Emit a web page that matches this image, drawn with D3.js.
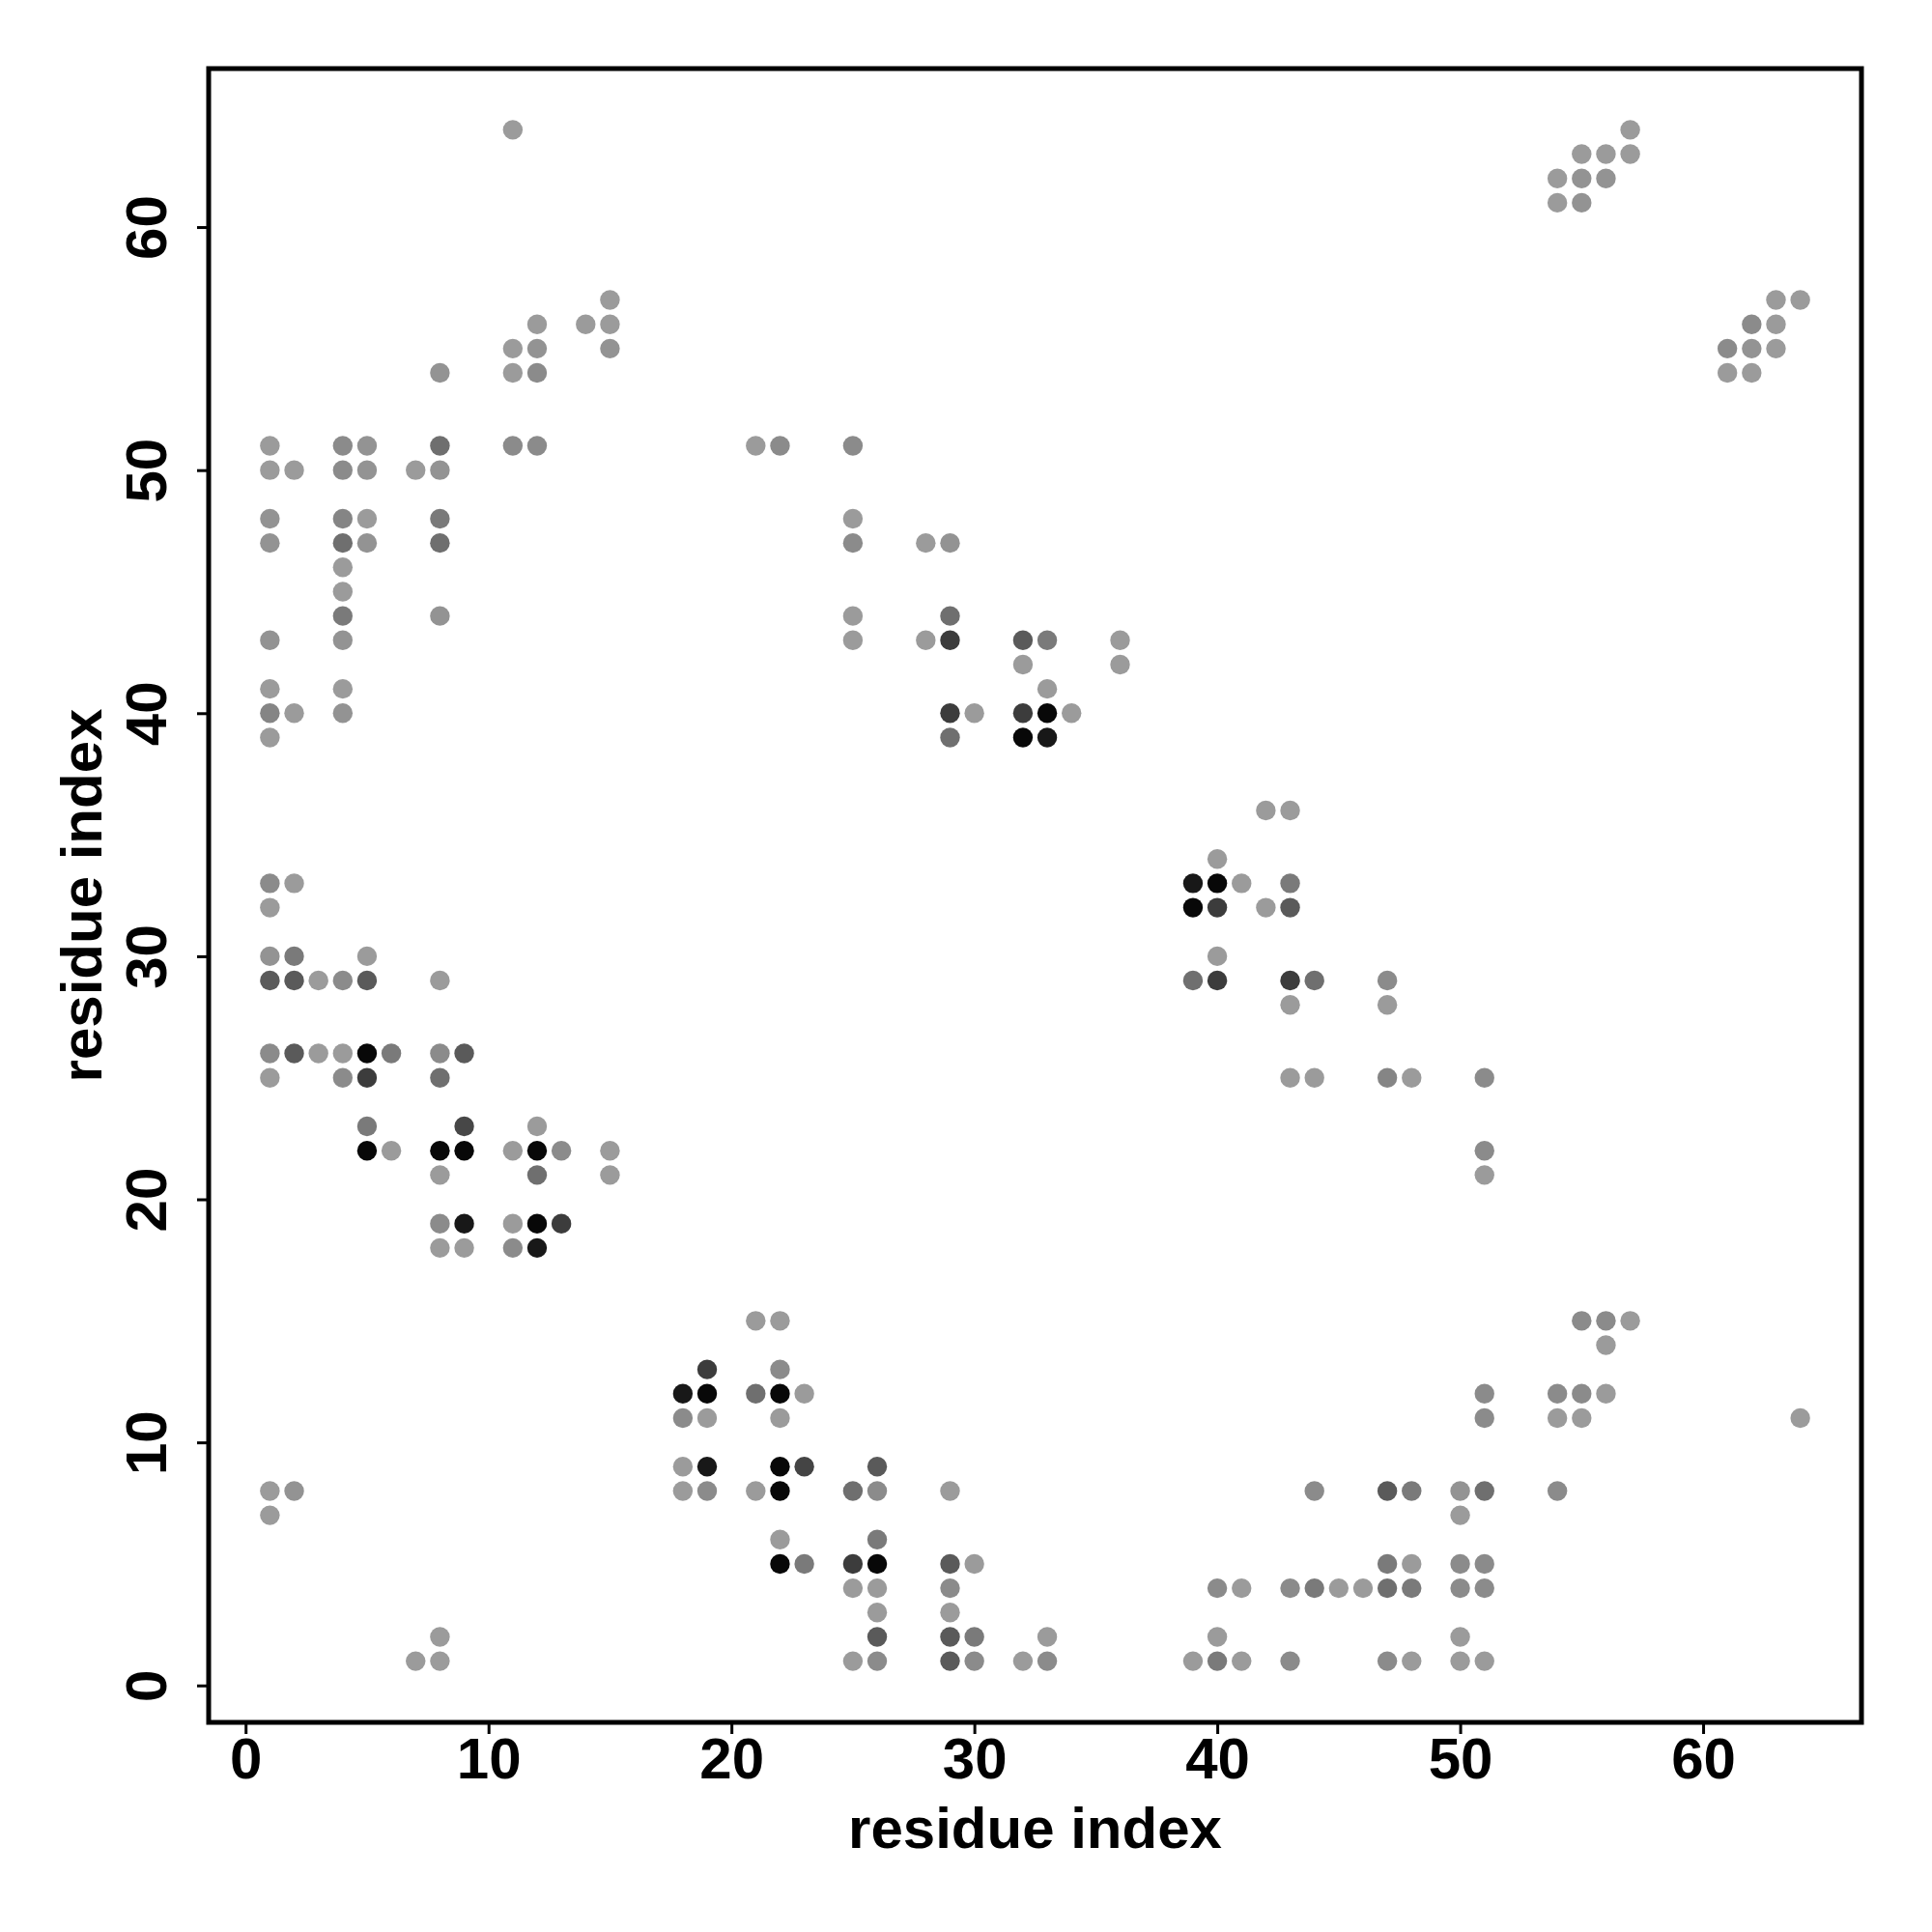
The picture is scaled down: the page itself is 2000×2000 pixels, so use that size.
<!DOCTYPE html>
<html>
<head>
<meta charset="utf-8">
<script src="https://cdn.jsdelivr.net/npm/d3@7"></script>
<style>
  html, body { margin: 0; padding: 0; background: #ffffff; }
  svg { display: block; }
  text { font-family: "Liberation Sans", Arial, Helvetica, sans-serif; font-weight: bold; }
</style>
</head>
<body>
<svg id="chart" width="2000" height="2000"></svg>
<script>
// ---------------- data ----------------
// contact map: rows of residue j, with residue i positions and contact strength (0..1)
const rowJ = [64,63,62,61,57,56,55,54,51,50,48,47,46,45,44,43,42,41,40,39,36,34,33,32,30,29,28,26,25,23,22,21,19,18,15,14,13,12,11,9,8,7,6,5,4,3,2,1];
const rowI = [
  [11,57],
  [55,56,57],
  [54,55,56],
  [54,55],
  [15,63,64],
  [12,14,15,62,63],
  [11,12,15,61,62,63],
  [8,11,12,61,62],
  [1,4,5,8,11,12,21,22,25],
  [1,2,4,5,7,8],
  [1,4,5,8,25],
  [1,4,5,8,25,28,29],
  [4],
  [4],
  [4,8,25,29],
  [1,4,25,28,29,32,33,36],
  [32,36],
  [1,4,33],
  [1,2,4,29,30,32,33,34],
  [1,29,32,33],
  [42,43],
  [40],
  [1,2,39,40,41,43],
  [1,39,40,42,43],
  [1,2,5,40],
  [1,2,3,4,5,8,39,40,43,44,47],
  [43,47],
  [1,2,3,4,5,6,8,9],
  [1,4,5,8,43,44,47,48,51],
  [5,9,12],
  [5,6,8,9,11,12,13,15,51],
  [8,12,15,51],
  [8,9,11,12,13],
  [8,9,11,12],
  [21,22,55,56,57],
  [56],
  [19,22],
  [18,19,21,22,23,51,54,55,56],
  [18,19,22,51,54,55,64],
  [18,19,22,23,26],
  [1,2,18,19,21,22,25,26,29,44,47,48,50,51,54],
  [1,50],
  [22,26],
  [22,23,25,26,29,30,47,48,50,51],
  [25,26,29,40,41,43,44,45,46,47,48,50,51],
  [26,29],
  [8,26,29,30,33,40,50],
  [7,8,25,26,29,30,32,33,39,40,41,43,47,48,50,51]
];
const rowP = [
  [0.02,0.02],
  [0.02,0.02,0.02],
  [0.02,0.07,0.07],
  [0.02,0.07],
  [0.02,0.02,0.02],
  [0.02,0.02,0.02,0.12,0.02],
  [0.02,0.07,0.07,0.12,0.07,0.02],
  [0.07,0.02,0.12,0.02,0.02],
  [0.02,0.12,0.07,0.30,0.12,0.12,0.02,0.12,0.12],
  [0.02,0.02,0.12,0.07,0.02,0.07],
  [0.07,0.16,0.02,0.23,0.02],
  [0.07,0.30,0.07,0.30,0.12,0.02,0.07],
  [0.02],
  [0.02],
  [0.23,0.07,0.02,0.30],
  [0.07,0.07,0.02,0.02,0.62,0.43,0.23,0.02],
  [0.02,0.02],
  [0.02,0.02,0.02],
  [0.16,0.02,0.07,0.62,0.02,0.62,0.95,0.02],
  [0.02,0.30,0.95,0.85],
  [0.02,0.02],
  [0.02],
  [0.12,0.02,0.85,0.95,0.02,0.23],
  [0.02,0.95,0.62,0.02,0.43],
  [0.07,0.23,0.02,0.02],
  [0.43,0.43,0.02,0.12,0.43,0.02,0.30,0.62,0.62,0.30,0.12],
  [0.02,0.02],
  [0.12,0.43,0.02,0.02,0.95,0.23,0.12,0.43],
  [0.02,0.12,0.62,0.30,0.02,0.02,0.16,0.02,0.12],
  [0.23,0.55,0.02],
  [0.95,0.02,0.95,0.95,0.02,0.95,0.12,0.02,0.12],
  [0.02,0.30,0.02,0.02],
  [0.12,0.85,0.02,0.95,0.62],
  [0.02,0.02,0.12,0.85],
  [0.02,0.02,0.12,0.12,0.02],
  [0.02],
  [0.62,0.12],
  [0.85,0.95,0.30,0.95,0.02,0.12,0.12,0.12,0.02],
  [0.12,0.02,0.02,0.12,0.02,0.02,0.02],
  [0.02,0.85,0.95,0.57,0.43],
  [0.02,0.07,0.02,0.12,0.02,0.95,0.30,0.12,0.02,0.12,0.43,0.23,0.07,0.30,0.12],
  [0.02,0.02],
  [0.02,0.23],
  [0.95,0.23,0.62,0.95,0.43,0.02,0.23,0.02,0.12,0.12],
  [0.02,0.02,0.12,0.12,0.02,0.12,0.23,0.02,0.02,0.30,0.23,0.12,0.12],
  [0.02,0.02],
  [0.02,0.43,0.43,0.23,0.02,0.02,0.02],
  [0.02,0.02,0.02,0.12,0.43,0.12,0.02,0.12,0.02,0.23,0.02,0.12,0.12,0.02,0.02,0.02]
];
const tickValues = [0, 10, 20, 30, 40, 50, 60];
const xLabel = "residue index";
const yLabel = "residue index";

// ---------------- build records ----------------
const contacts = [];
rowJ.forEach((j, r) => {
  rowI[r].forEach((i, k) => contacts.push({ i: i, j: j, p: rowP[r][k] }));
});

// ---------------- layout ----------------
const svg = d3.select("#chart");
const L = 216, R = 1927, T = 71, B = 1783;
const dmin = 1, dmax = 64, pad = (dmax - dmin) * 0.04;

const x = d3.scaleLinear().domain([dmin - pad, dmax + pad]).range([L, R]);
const y = d3.scaleLinear().domain([dmin - pad, dmax + pad]).range([B, T]);
const shade = d3.scaleLinear().domain([0, 1]).range(["#9e9e9e", "#000000"]);

svg.append("rect").attr("width", 2000).attr("height", 2000).attr("fill", "#ffffff");

// points (light first so dark are on top)
svg.append("g")
  .selectAll("circle")
  .data(contacts.slice().sort((a, b) => a.p - b.p))
  .join("circle")
  .attr("cx", d => x(d.i))
  .attr("cy", d => y(d.j))
  .attr("r", 10.2)
  .attr("fill", d => shade(d.p));

// box
svg.append("rect")
  .attr("x", L).attr("y", T)
  .attr("width", R - L).attr("height", B - T)
  .attr("fill", "none").attr("stroke", "#000").attr("stroke-width", 5);

// x axis
const gx = svg.append("g")
  .attr("transform", `translate(0,${B})`)
  .call(d3.axisBottom(x).tickValues(tickValues).tickSize(12).tickFormat(d3.format("d")));
gx.select(".domain").remove();
gx.selectAll(".tick line").attr("stroke", "#000").attr("stroke-width", 3);
gx.selectAll(".tick text")
  .attr("y", 58).attr("dy", 0)
  .attr("fill", "#000")
  .style("font-size", "60px");

// y axis
const gy = svg.append("g")
  .attr("transform", `translate(${L},0)`)
  .call(d3.axisLeft(y).tickValues(tickValues).tickSize(12).tickFormat(d3.format("d")));
gy.select(".domain").remove();
gy.selectAll(".tick line").attr("stroke", "#000").attr("stroke-width", 3);
gy.selectAll(".tick text")
  .attr("x", 0).attr("y", 0).attr("dy", 0)
  .attr("transform", "translate(-44,0) rotate(-90)")
  .attr("text-anchor", "middle")
  .attr("fill", "#000")
  .style("font-size", "60px");

// axis titles
svg.append("text")
  .attr("x", (L + R) / 2).attr("y", 1913)
  .attr("text-anchor", "middle")
  .style("font-size", "60px")
  .text(xLabel);

svg.append("text")
  .attr("transform", `translate(105,${(T + B) / 2}) rotate(-90)`)
  .attr("text-anchor", "middle")
  .style("font-size", "60px")
  .text(yLabel);
</script>
</body>
</html>
